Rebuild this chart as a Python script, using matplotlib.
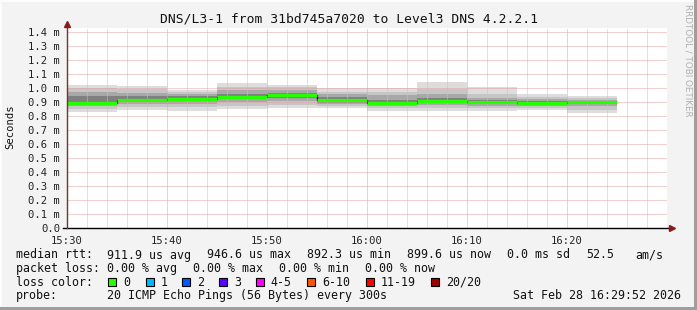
import matplotlib
matplotlib.use("Agg")
import matplotlib.pyplot as plt
from matplotlib.patches import Rectangle

plt.rcParams['font.family'] = ['DejaVu Sans Mono']

# ---------------- data ----------------
slot_times = ["15:30", "15:35", "15:40", "15:45", "15:50", "15:55",
              "16:00", "16:05", "16:10", "16:15", "16:20"]
median_ms = [0.896, 0.915, 0.924, 0.938, 0.9466, 0.912,
             0.896, 0.910, 0.898, 0.8923, 0.8996]
# smoke quantile bands (outer -> inner), in ms
smoke_hi0 = [1.020, 1.012, 0.986, 1.033, 1.023, 1.000, 0.997, 1.045, 1.009, 0.960, 0.945]
smoke_hi1 = [0.997, 0.995, 0.975, 1.010, 1.005, 0.975, 0.975, 0.990, 0.960, 0.935, 0.925]
smoke_hi2 = [0.975, 0.965, 0.955, 0.985, 0.985, 0.955, 0.950, 0.955, 0.930, 0.920, 0.915]
smoke_hi3 = [0.940, 0.940, 0.940, 0.960, 0.962, 0.935, 0.915, 0.930, 0.915, 0.905, 0.905]
smoke_lo3 = [0.880, 0.900, 0.905, 0.920, 0.930, 0.895, 0.880, 0.895, 0.885, 0.880, 0.885]
smoke_lo2 = [0.868, 0.885, 0.885, 0.900, 0.905, 0.885, 0.870, 0.880, 0.875, 0.870, 0.870]
smoke_lo1 = [0.850, 0.865, 0.862, 0.875, 0.880, 0.872, 0.855, 0.860, 0.860, 0.858, 0.845]
smoke_lo0 = [0.832, 0.846, 0.839, 0.851, 0.860, 0.860, 0.839, 0.839, 0.839, 0.846, 0.820]

x_tick_labels = ["15:30", "15:40", "15:50", "16:00", "16:10", "16:20"]
y_ticks = [0.0, 0.1, 0.2, 0.3, 0.4, 0.5, 0.6, 0.7, 0.8, 0.9, 1.0, 1.1, 1.2, 1.3, 1.4]
y_tick_labels = ["0.0"] + ["%.1f m" % v for v in y_ticks[1:]]

title = "DNS/L3-1 from 31bd745a7020 to Level3 DNS 4.2.2.1"
loss_labels = ["0", "1", "2", "3", "4-5", "6-10", "11-19", "20/20"]
loss_colors = ["#26ff00", "#00b8ff", "#0059ff", "#5e00ff", "#ff00ff",
               "#ff5500", "#ff0000", "#a10000"]

# ---------------- helpers ----------------
W, H = 697, 310
def fx(px):
    return px / W
def fy(py):
    return 1 - py / H

def to_min(t):
    h, m = t.split(":")
    return int(h) * 60 + int(m) - (15 * 60 + 30)

xs = [to_min(t) for t in slot_times]
step = 5

fig = plt.figure(figsize=(W / 100, H / 100), dpi=100)
fig.patch.set_facecolor('#f3f3f3')

ax = fig.add_axes([fx(67), fy(228), 600 / W, 200 / H])
ax.set_facecolor('white')
ax.set_xlim(0, 60)
ax.set_ylim(0, 200 / 140)

# smoke
bands = [(smoke_lo0, smoke_hi0, '#dddddd'),
         (smoke_lo1, smoke_hi1, '#c6c6c6'),
         (smoke_lo2, smoke_hi2, '#a8a8a8'),
         (smoke_lo3, smoke_hi3, '#808080')]
for lo, hi, c in bands:
    ax.bar(xs, [h - l for l, h in zip(lo, hi)], bottom=lo, width=step,
           align='edge', color=c, linewidth=0, zorder=1)

# median: black step connectors + green segments
ax.step(xs, median_ms, where='post', color='black', lw=0.9, zorder=3)
ax.hlines(median_ms, xs, [x + step for x in xs], colors='#26ff00', lw=2.3, zorder=4)

# grid (dotted, 1px on / 1px off)
dot = (0, (1, 1))
for m in range(2, 60, 2):
    col = '#e3a0a0' if m % 10 == 0 else '#c4c4c4'
    ax.axvline(m, color=col, lw=0.72, ls=dot, zorder=2)
for v in y_ticks[1:]:
    ax.axhline(v, color='#e3a0a0', lw=0.72, ls=dot, zorder=2)

for s in ax.spines.values():
    s.set_visible(False)

ax.set_xticks([to_min(t) for t in x_tick_labels])
ax.set_xticklabels(x_tick_labels, fontsize=7.6)
ax.set_yticks(y_ticks)
ax.set_yticklabels(y_tick_labels, fontsize=7.6)
ax.tick_params(length=0, pad=5, colors='#222222')
ax.tick_params(axis='x', pad=6)

# axes lines and arrows
ax.plot([-0.4, 60.4], [0, 0], color='black', lw=1.0, clip_on=False, zorder=5)
ax.plot([0, 0], [0, 200 / 140 + 0.03], color='#7a3030', lw=1.0, clip_on=False, zorder=5)
ax.plot([60.45], [0], marker='>', color='#8b1a1a', markersize=4.5, clip_on=False, zorder=6)
ax.plot([0], [200 / 140 + 0.03], marker='^', color='#8b1a1a', markersize=4.5, clip_on=False, zorder=6)

# texts
fig.text(fx(348.5), fy(19), title, ha='center', va='center', fontsize=9.4, color='#111111')
fig.text(fx(10.5), fy(127), "Seconds", rotation=90, ha='center', va='center',
         fontsize=7.6, color='#111111')
fig.text(fx(688), fy(4), "RRDTOOL / TOBI OETIKER", rotation=-90, ha='center', va='top',
         fontsize=6.3, color='#b0b0b0', family='DejaVu Sans')

fs = 8.4
tc = '#111111'
def t(px, py, s):
    fig.text(fx(px), fy(py), s, ha='left', va='center', fontsize=fs, color=tc)

r1, r2, r3, r4 = 255, 268.3, 282.3, 295.7
t(16, r1, "median rtt:")
t(107, r1, "911.9 us avg")
t(207, r1, "946.6 us max")
t(307, r1, "892.3 us min")
t(407, r1, "899.6 us now")
t(507, r1, "0.0 ms sd")
t(586.7, r1, "52.5")
t(635.7, r1, "am/s")

t(16, r2, "packet loss:")
t(107, r2, "0.00 % avg")
t(193.3, r2, "0.00 % max")
t(279.3, r2, "0.00 % min")
t(365, r2, "0.00 % now")

t(16, r3, "loss color:")
box_x = [108.3, 145.7, 182.3, 219, 255.7, 307.3, 365.7, 430.7]
for bx, lab, col in zip(box_x, loss_labels, loss_colors):
    fig.add_artist(Rectangle((fx(bx), fy(r3 + 4)), 8 / W, 8 / H, transform=fig.transFigure,
                             facecolor=col, edgecolor='black', lw=0.8))
    t(bx + 15, r3, lab)

t(16, r4, "probe:")
t(107, r4, "20 ICMP Echo Pings (56 Bytes) every 300s")
t(513.3, r4, "Sat Feb 28 16:29:52 2026")

# frame shading
fig.add_artist(Rectangle((0, fy(2)), 1, 2 / H, transform=fig.transFigure, color='#fcfcfc', lw=0))
fig.add_artist(Rectangle((0, 0), 2 / W, 1, transform=fig.transFigure, color='#fcfcfc', lw=0))
fig.add_artist(Rectangle((0, 0), 1, 3 / H, transform=fig.transFigure, color='#9e9e9e', lw=0))
fig.add_artist(Rectangle((fx(694), 0), 3 / W, 1, transform=fig.transFigure, color='#9e9e9e', lw=0))

fig.savefig("out.png", dpi=100, facecolor=fig.get_facecolor())
